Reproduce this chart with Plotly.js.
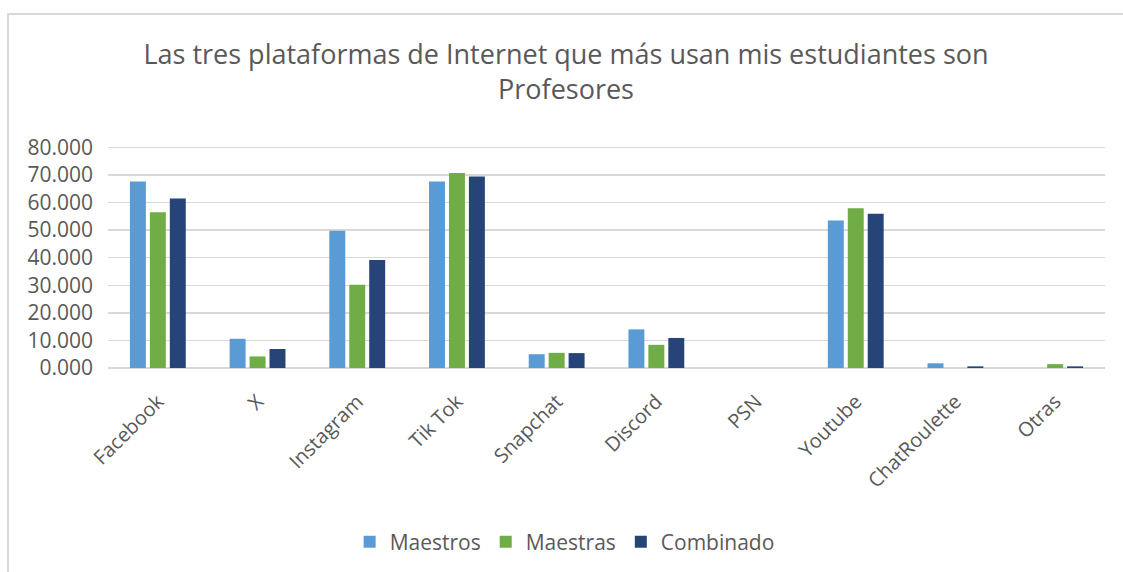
<!DOCTYPE html>
<html>
<head>
<meta charset="utf-8">
<script src="https://cdn.plot.ly/plotly-3.0.1.min.js"></script>
<style>
  body { margin: 0; background: white; }
  #grafico {
    position: absolute; left: 7px; top: 13px;
    width: 1114px; height: 557px;
    border-left: 2px solid #d9d9d9; border-top: 2px solid #d9d9d9;
  }
</style>
</head>
<body>
<div id="grafico"></div>
<script>
const plataformas = ['Facebook', 'X', 'Instagram', 'Tik Tok', 'Snapchat', 'Discord', 'PSN', 'Youtube', 'ChatRoulette', 'Otras'];
const maestros  = [67.6, 10.6, 49.8, 67.6, 5.0, 14.0, 0, 53.5, 1.7, 0];
const maestras  = [56.5, 4.2, 30.2, 70.7, 5.5, 8.4, 0, 57.9, 0, 1.4];
const combinado = [61.5, 6.9, 39.2, 69.4, 5.4, 10.9, 0, 55.9, 0.6, 0.6];
const yTicks = [0, 10, 20, 30, 40, 50, 60, 70, 80];

const gris = '#595959';

const serie = (nombre, valores, color) => ({
  type: 'bar',
  name: nombre,
  x: plataformas,
  y: valores,
  marker: { color: color },
  hoverinfo: 'x+y+name'
});

const traces = [
  serie('Maestros', maestros, '#5B9BD5'),
  serie('Maestras', maestras, '#70AD47'),
  serie('Combinado', combinado, '#264478')
];

const layout = {
  width: 1114,
  height: 557,
  margin: { l: 99, r: 18, t: 131, b: 203 },
  paper_bgcolor: 'white',
  plot_bgcolor: 'white',
  font: { family: 'Open Sans, sans-serif', color: gris },
  title: {
    text: 'Las tres plataformas de Internet que más usan mis estudiantes son<br>Profesores',
    font: { size: 27, color: gris, lineposition: 'none' },
    x: 0.5, xanchor: 'center',
    y: 1 - 49 / 557, yanchor: 'middle', yref: 'container'
  },
  barmode: 'group',
  bargap: 0.4,
  bargroupgap: 0.2,
  xaxis: {
    tickangle: -45,
    tickfont: { size: 20, color: gris },
    ticklabelstandoff: 17,
    showgrid: false,
    showline: false,
    ticks: ''
  },
  yaxis: {
    range: [0, 80.5],
    tickvals: yTicks,
    tickformat: '.3f',
    tickfont: { size: 21, color: gris },
    ticklabelstandoff: 14,
    gridcolor: '#d9d9d9',
    gridwidth: 1.5,
    zeroline: true,
    zerolinecolor: '#d9d9d9',
    zerolinewidth: 1.5,
    showline: false,
    ticks: ''
  },
  showlegend: true,
  legend: {
    orientation: 'h',
    x: 0.458, xanchor: 'center',
    y: -0.776, yanchor: 'middle',
    font: { size: 21, color: gris },
    itemclick: false
  }
};

Plotly.newPlot('grafico', traces, layout, { displayModeBar: false, staticPlot: true });
</script>
</body>
</html>
